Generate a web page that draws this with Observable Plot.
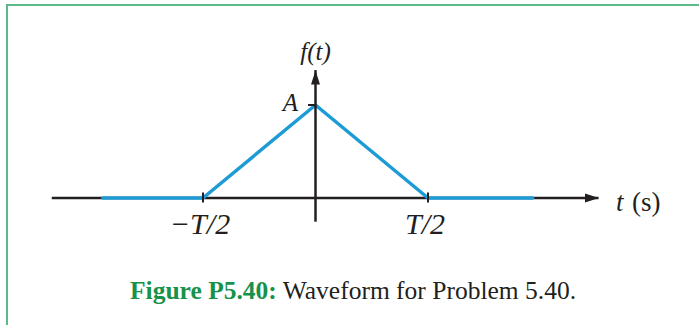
<!DOCTYPE html>
<html>
<head>
<meta charset="utf-8">
<script src="https://cdn.jsdelivr.net/npm/d3@7"></script>
<script src="https://cdn.jsdelivr.net/npm/@observablehq/plot@0.6"></script>
<style>
  html, body { margin: 0; padding: 0; background: #fff; }
  #wrap { position: relative; width: 699px; height: 325px; overflow: hidden; }
  #frame { position: absolute; left: 6px; top: 4px; right: -4px; bottom: -4px;
           border-left: 2px solid #5cb98a; border-top: 2px solid #5cb98a; }
  #chart svg { display: block; }
  #caption { margin-left: 130px; font-family: "Liberation Serif", "Times New Roman", serif;
             font-size: 25.5px; line-height: 22px; color: #231f20; white-space: nowrap; }
  #caption b { color: #17924b; }
</style>
</head>
<body>
<div id="wrap">
  <div id="frame"></div>
  <div id="chart"></div>
  <div id="caption"></div>
</div>
<script>
// ---- data (t in units of T/2, f in units of A) ----
const waveT = [-1.89, -1, 0, 1, 1.93];
const waveF = [0, 0, 1, 0, 0];
const tickT = [-1, 1];
const tickLabels = ["\u2212T/2", "T/2"];
const axisT = [-2.34, 2.52];   // horizontal axis extent
const axisF = [-0.26, 1.37];   // vertical axis extent
const peakLabel = "A";
const yLabel = "f(t)";
const xLabelVar = "t";
const xLabelUnit = "(s)";
const captionLabel = "Figure P5.40:";
const captionText = " Waveform for Problem 5.40.";

const blue = "#1c9bd6";
const ink = "#231f20";
const serif = "Liberation Serif, Times New Roman, serif";

const wave = waveT.map((t, i) => ({t, f: waveF[i]}));

const headShape = {
  draw(context, l, r) {
    context.moveTo(0, -l);
    context.lineTo(-r, 0);
    context.lineTo(r, 0);
    context.closePath();
  }
};

const plot = Plot.plot({
  width: 699,
  height: 280,
  margin: 0,
  style: {background: "transparent", overflow: "visible"},
  x: {axis: null, domain: [-2.8, 3.4133]},
  y: {axis: null, domain: [-0.8871, 2.1237]},
  marks: [
    // horizontal axis
    Plot.ruleY([0], {x1: axisT[0], x2: axisT[1], stroke: ink, strokeWidth: 2.5}),
    Plot.vector([{t: axisT[1], f: 0}], {x: "t", y: "f", rotate: 90, anchor: "end", length: 14, r: 4.5,
      shape: headShape, fill: ink, stroke: "none"}),
    // waveform
    Plot.line(wave, {x: "t", y: "f", stroke: blue, strokeWidth: 3.5, strokeLinejoin: "miter"}),
    // vertical axis
    Plot.ruleX([0], {y1: axisF[0], y2: axisF[1], stroke: ink, strokeWidth: 2.5}),
    Plot.vector([{t: 0, f: axisF[1]}], {x: "t", y: "f", anchor: "end", length: 14, r: 4.5,
      shape: headShape, fill: ink, stroke: "none"}),
    // ticks
    Plot.ruleX(tickT, {x: d => d, y1: 0, y2: 0, insetTop: -5, insetBottom: -5, stroke: ink, strokeWidth: 2}),
    Plot.ruleY([1], {x1: 0, x2: 0, insetLeft: -7, stroke: ink, strokeWidth: 2}),
    // labels
    Plot.text(tickT, {x: d => d, y: 0, text: (d, i) => tickLabels[i], dy: 26, dx: -3,
      fontSize: 30, fontStyle: "italic", fontFamily: serif, fill: ink}),
    Plot.text([peakLabel], {x: 0, y: 1, text: d => d, dx: -25, dy: -2,
      fontSize: 25, fontStyle: "italic", fontFamily: serif, fill: ink}),
    Plot.text([yLabel], {x: 0, y: axisF[1], text: d => d, dy: -19,
      fontSize: 25, fontStyle: "italic", fontFamily: serif, fill: ink}),
    Plot.text([xLabelVar], {x: axisT[1], y: 0, text: d => d, dx: 17, dy: 4, textAnchor: "start",
      fontSize: 27, fontStyle: "italic", fontFamily: serif, fill: ink}),
    Plot.text([xLabelUnit], {x: axisT[1], y: 0, text: d => d, dx: 33, dy: 4, textAnchor: "start",
      fontSize: 27, fontFamily: serif, fill: ink})
  ]
});
document.getElementById("chart").appendChild(plot);

const cap = document.getElementById("caption");
const b = document.createElement("b");
b.textContent = captionLabel;
cap.appendChild(b);
cap.appendChild(document.createTextNode(captionText));
</script>
</body>
</html>
